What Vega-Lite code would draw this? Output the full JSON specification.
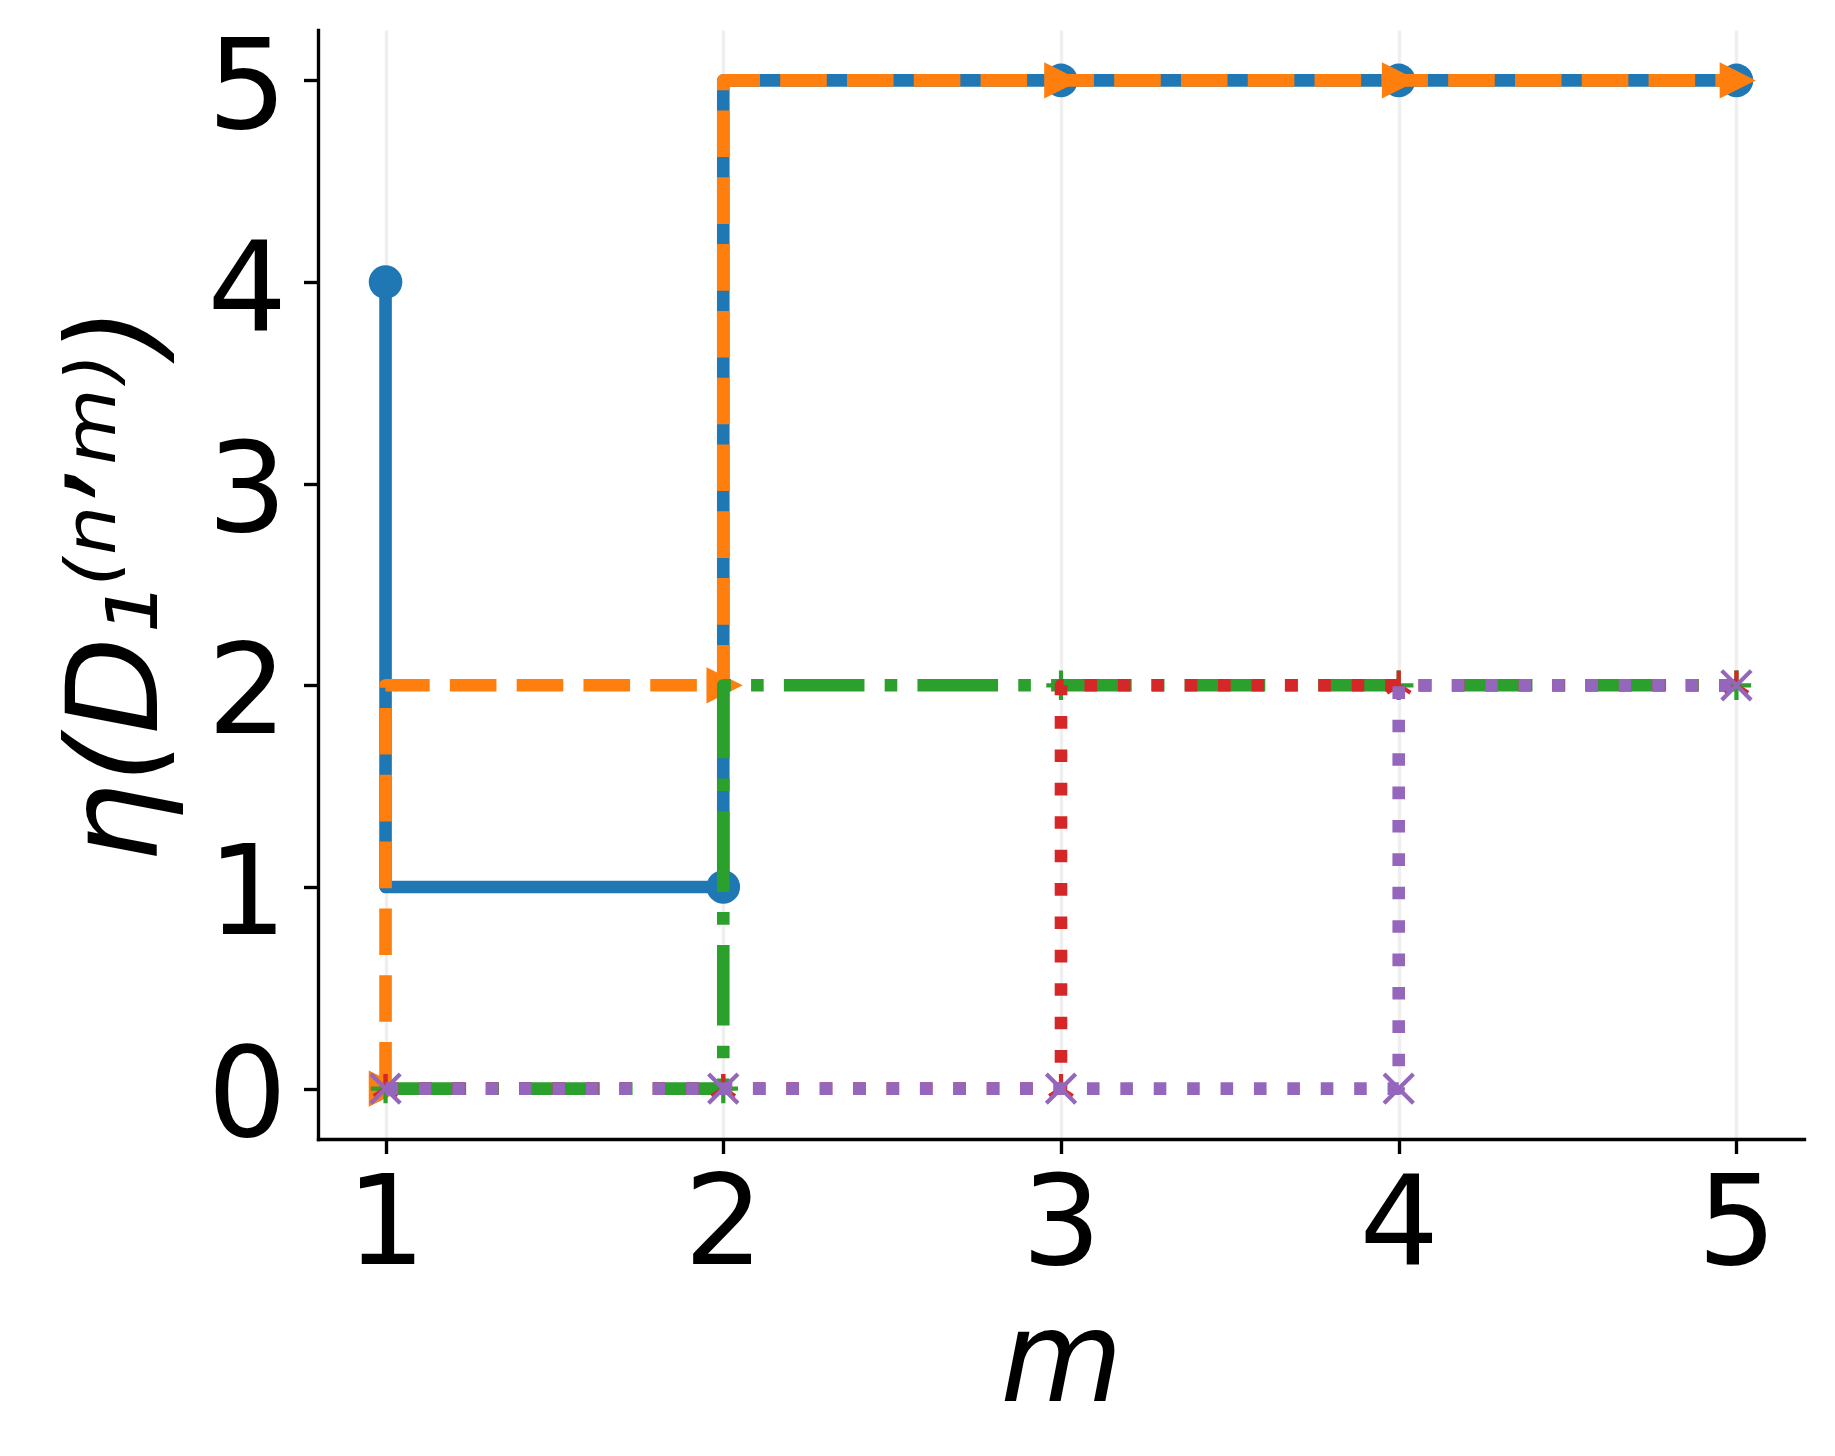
{
  "$schema": "https://vega.github.io/schema/vega-lite/v6.json",
  "width": 1486,
  "height": 1109,
  "autosize": {"type": "none"},
  "padding": {"left": 318, "top": 30, "right": 31, "bottom": 317},
  "background": "white",
  "config": {"view": {"stroke": null}, "font": "DejaVu Sans"},
  "data": {
    "values": [
      {"s": "s1", "m": 1, "v": 4}, {"s": "s1", "m": 2, "v": 1}, {"s": "s1", "m": 3, "v": 5}, {"s": "s1", "m": 4, "v": 5}, {"s": "s1", "m": 5, "v": 5},
      {"s": "s2", "m": 1, "v": 0}, {"s": "s2", "m": 2, "v": 2}, {"s": "s2", "m": 3, "v": 5}, {"s": "s2", "m": 4, "v": 5}, {"s": "s2", "m": 5, "v": 5},
      {"s": "s3", "m": 1, "v": 0}, {"s": "s3", "m": 2, "v": 0}, {"s": "s3", "m": 3, "v": 2}, {"s": "s3", "m": 4, "v": 2}, {"s": "s3", "m": 5, "v": 2},
      {"s": "s4", "m": 1, "v": 0}, {"s": "s4", "m": 2, "v": 0}, {"s": "s4", "m": 3, "v": 0}, {"s": "s4", "m": 4, "v": 2}, {"s": "s4", "m": 5, "v": 2},
      {"s": "s5", "m": 1, "v": 0}, {"s": "s5", "m": 2, "v": 0}, {"s": "s5", "m": 3, "v": 0}, {"s": "s5", "m": 4, "v": 0}, {"s": "s5", "m": 5, "v": 2}
    ]
  },
  "encoding": {
    "x": {
      "field": "m",
      "type": "quantitative",
      "scale": {"domain": [0.8, 5.2], "nice": false, "zero": false},
      "axis": {
        "values": [1, 2, 3, 4, 5],
        "format": "d",
        "grid": true,
        "gridColor": "#efefef",
        "gridWidth": 3.36,
        "domainColor": "black",
        "domainWidth": 3.36,
        "domainCap": "square",
        "tickColor": "black",
        "tickWidth": 3.36,
        "tickSize": 14.5,
        "labelFont": "DejaVu Sans",
        "labelFontSize": 125,
        "labelColor": "black",
        "labelPadding": 11,
        "labelFlush": false,
        "labelOverlap": false,
        "title": "m",
        "titleFont": "DejaVu Sans",
        "titleFontSize": 126,
        "titleFontStyle": "italic",
        "titleFontWeight": "normal",
        "titleColor": "black",
        "titleBaseline": "alphabetic",
        "titlePadding": 112
      }
    },
    "y": {
      "field": "v",
      "type": "quantitative",
      "scale": {"domain": [-0.25, 5.25], "nice": false, "zero": false},
      "axis": {
        "values": [0, 1, 2, 3, 4, 5],
        "format": "d",
        "grid": false,
        "domainColor": "black",
        "domainWidth": 3.36,
        "domainCap": "square",
        "tickColor": "black",
        "tickWidth": 3.36,
        "tickSize": 14.5,
        "labelFont": "DejaVu Sans",
        "labelFontSize": 125,
        "labelColor": "black",
        "labelPadding": 17,
        "labelBaseline": "middle",
        "labelOffset": 9,
        "labelFlush": false,
        "labelOverlap": false,
        "title": "η(D₁⁽ⁿʼᵐ⁾)",
        "titleFont": "DejaVu Sans",
        "titleFontSize": 126,
        "titleFontStyle": "italic",
        "titleFontWeight": "normal",
        "titleColor": "black",
        "titleBaseline": "alphabetic",
        "titlePadding": 50
      }
    }
  },
  "layer": [
    {
      "transform": [{"filter": "datum.s === 's1'"}],
      "mark": {"type": "line", "interpolate": "step-before", "color": "#1f77b4", "strokeWidth": 12.6, "strokeCap": "square", "strokeJoin": "round"}
    },
    {
      "transform": [{"filter": "datum.s === 's1'"}],
      "mark": {"type": "point", "shape": "circle", "filled": true, "color": "#1f77b4", "size": 1129, "opacity": 1, "strokeWidth": 0}
    },
    {
      "transform": [{"filter": "datum.s === 's2'"}],
      "mark": {"type": "line", "interpolate": "step-before", "color": "#ff7f0e", "strokeWidth": 12.6, "strokeDash": [46.6, 20.2], "strokeCap": "butt", "strokeJoin": "round"}
    },
    {
      "transform": [{"filter": "datum.s === 's2'"}],
      "mark": {"type": "point", "shape": "M1,0L-1,1L-1,-1Z", "filled": true, "color": "#ff7f0e", "stroke": "#ff7f0e", "strokeWidth": 4.2, "strokeJoin": "miter", "size": 864, "opacity": 1}
    },
    {
      "transform": [{"filter": "datum.s === 's3'"}],
      "mark": {"type": "line", "interpolate": "step-before", "color": "#2ca02c", "strokeWidth": 12.6, "strokeDash": [80.6, 20.2, 12.6, 20.2], "strokeCap": "butt", "strokeJoin": "round"}
    },
    {
      "transform": [{"filter": "datum.s === 's3'"}],
      "mark": {"type": "point", "shape": "M-1,0L1,0M0,-1L0,1", "filled": false, "color": "#2ca02c", "strokeWidth": 4.2, "size": 864, "opacity": 1}
    },
    {
      "transform": [{"filter": "datum.s === 's4'"}],
      "mark": {"type": "line", "interpolate": "step-before", "color": "#d62728", "strokeWidth": 12.6, "strokeDash": [12.6, 20.8], "strokeCap": "butt", "strokeJoin": "round"}
    },
    {
      "transform": [{"filter": "datum.s === 's4'"}],
      "mark": {"type": "point", "shape": "M0,0L0,-1M0,0L-0.8,0.5M0,0L0.8,0.5", "filled": false, "color": "#d62728", "strokeWidth": 4.2, "size": 864, "opacity": 1}
    },
    {
      "transform": [{"filter": "datum.s === 's5'"}],
      "mark": {"type": "line", "interpolate": "step-before", "color": "#9467bd", "strokeWidth": 12.6, "strokeDash": [12.6, 20.8], "strokeCap": "butt", "strokeJoin": "round"}
    },
    {
      "transform": [{"filter": "datum.s === 's5'"}],
      "mark": {"type": "point", "shape": "M-1,-1L1,1M-1,1L1,-1", "filled": false, "color": "#9467bd", "strokeWidth": 4.2, "size": 864, "opacity": 1}
    }
  ]
}
